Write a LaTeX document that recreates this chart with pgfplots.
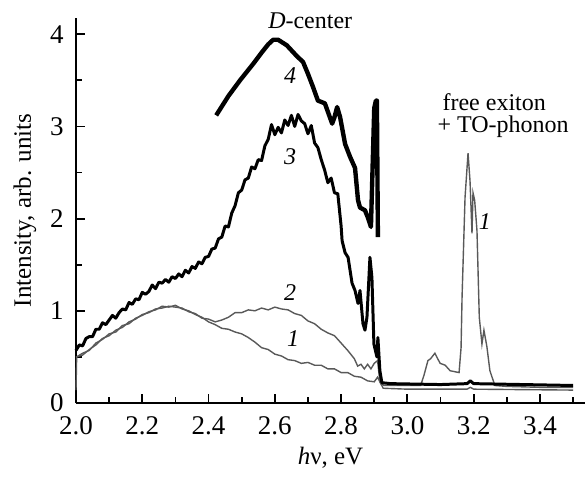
\documentclass[border=0pt]{standalone}
\usepackage{fontspec}
\setmainfont{Liberation Serif}
\usepackage{pgfplots}
\pgfplotsset{compat=1.18}
\begin{document}
\begin{tikzpicture}
\begin{axis}[
  scale only axis,
  width=254.5bp, height=192.5bp,
  xmin=2.0, xmax=3.536, ymin=0, ymax=4.176,
  axis lines*=left,
  axis line style={line width=1.1pt},
  tick align=inside,
  major tick length=4.5bp, minor tick length=3bp,
  tick style={line width=0.9pt, black},
  xtick={2.0,2.2,2.4,2.6,2.8,3.0,3.2,3.4},
  xticklabels={2.0,2.2,2.4,2.6,2.8,3.0,3.2,3.4},
  minor xtick={2.1,2.3,2.5,2.7,2.9,3.1,3.3,3.5},
  ytick={0,1,2,3,4},
  yticklabels={0,1,2,3,4},
  minor ytick={0.5,1.5,2.5,3.5},
  ticklabel style={font=\fontsize{13.5bp}{16bp}\selectfont, inner sep=1bp},
  xticklabel style={yshift=-5.5bp},
  yticklabel style={xshift=-5bp},
  clip=false,
]
% curve 1
\addplot[gray!70!black, line width=0.7pt] coordinates {
(2.000,0.14) (2.002,0.50) (2.02,0.54) (2.04,0.57) (2.06,0.65) (2.08,0.69) (2.10,0.75) (2.12,0.77)
(2.14,0.84) (2.16,0.86) (2.18,0.92) (2.20,0.95) (2.22,0.99) (2.24,1.01) (2.26,1.05) (2.28,1.04)
(2.30,1.06) (2.32,1.02) (2.34,1.00) (2.36,0.96) (2.38,0.93) (2.40,0.88) (2.42,0.85) (2.44,0.81)
(2.46,0.80) (2.48,0.77) (2.50,0.75) (2.52,0.71) (2.54,0.66) (2.56,0.60) (2.58,0.58) (2.60,0.53)
(2.62,0.51) (2.64,0.47) (2.66,0.46) (2.68,0.43) (2.70,0.44) (2.72,0.41) (2.74,0.41) (2.76,0.37)
(2.78,0.37) (2.80,0.33) (2.82,0.33) (2.84,0.29) (2.86,0.28) (2.88,0.24) (2.90,0.23) (2.91,0.28)
(2.92,0.21) (2.93,0.19) (3.00,0.19) (3.04,0.19) (3.05,0.30) (3.062,0.46) (3.07,0.48) (3.083,0.54)
(3.09,0.49) (3.099,0.43) (3.114,0.41) (3.129,0.35) (3.156,0.33) (3.162,0.60) (3.165,1.15)
(3.174,2.23) (3.183,2.71) (3.189,2.41) (3.195,1.84) (3.198,2.28) (3.203,2.20) (3.210,1.87)
(3.217,0.93) (3.225,0.64) (3.231,0.79) (3.240,0.61) (3.249,0.35) (3.264,0.19) (3.30,0.18)
(3.40,0.17) (3.50,0.17)
};
% curve 2
\addplot[gray!70!black, line width=0.7pt] coordinates {
(2.000,0.50) (2.02,0.52) (2.04,0.58) (2.06,0.63) (2.08,0.70) (2.10,0.73) (2.12,0.79)
(2.14,0.82) (2.16,0.88) (2.18,0.91) (2.20,0.96) (2.22,0.98) (2.24,1.02) (2.26,1.03) (2.28,1.05)
(2.30,1.04) (2.32,1.03) (2.34,0.99) (2.36,0.97) (2.38,0.92) (2.40,0.91) (2.42,0.88) (2.44,0.90)
(2.46,0.93) (2.48,0.98) (2.50,0.98) (2.52,1.01) (2.54,1.00) (2.56,1.03) (2.58,1.01) (2.60,1.04)
(2.62,1.02) (2.64,1.01) (2.66,0.97) (2.68,0.95) (2.70,0.89) (2.72,0.86) (2.74,0.80) (2.76,0.76)
(2.78,0.73) (2.80,0.65) (2.82,0.57) (2.84,0.48) (2.85,0.40) (2.86,0.42) (2.87,0.37) (2.88,0.42)
(2.89,0.37) (2.90,0.43) (2.91,0.46) (2.917,0.23) (2.927,0.16) (3.00,0.15) (3.18,0.15)
(3.19,0.17) (3.20,0.15) (3.50,0.14)
};
% curve 3
\addplot[black, line width=1.5pt, line join=round] coordinates {
(2.00,0.57) (2.01,0.63) (2.02,0.62) (2.03,0.70) (2.04,0.72) (2.05,0.72) (2.06,0.80) (2.07,0.80)
(2.08,0.87) (2.09,0.85) (2.10,0.90) (2.11,0.95) (2.12,0.92) (2.13,0.98) (2.14,1.02) (2.15,1.01)
(2.16,1.09) (2.17,1.07) (2.18,1.13) (2.19,1.12) (2.20,1.20) (2.21,1.18) (2.22,1.21) (2.23,1.28)
(2.24,1.24) (2.25,1.31) (2.26,1.30) (2.27,1.34) (2.28,1.31) (2.29,1.37) (2.30,1.35) (2.31,1.40)
(2.32,1.37) (2.33,1.44) (2.34,1.41) (2.35,1.48) (2.36,1.46) (2.37,1.53) (2.38,1.51) (2.39,1.58)
(2.40,1.59) (2.41,1.67) (2.42,1.68) (2.43,1.78) (2.44,1.80) (2.45,1.92) (2.46,1.91) (2.47,2.06)
(2.48,2.14) (2.49,2.28) (2.50,2.31) (2.51,2.42) (2.52,2.44) (2.53,2.56) (2.54,2.54) (2.55,2.64)
(2.56,2.63) (2.57,2.79) (2.58,2.86) (2.59,3.02) (2.60,2.91) (2.61,2.99) (2.62,2.93) (2.63,3.07)
(2.64,3.01) (2.65,3.12) (2.66,3.00) (2.67,3.13) (2.68,3.06) (2.69,3.03) (2.70,2.92) (2.71,3.01)
(2.72,2.82) (2.73,2.77) (2.74,2.64) (2.75,2.53) (2.76,2.39) (2.77,2.44) (2.78,2.28) (2.79,2.27)
(2.80,1.92) (2.803,1.76) (2.812,1.63) (2.821,1.58) (2.833,1.30) (2.842,1.22) (2.851,1.08)
(2.857,1.22) (2.866,0.86) (2.872,0.79) (2.878,0.93) (2.887,1.58) (2.893,1.36) (2.899,0.64)
(2.908,0.50) (2.911,0.71) (2.917,0.35) (2.923,0.22) (2.95,0.21) (3.10,0.20) (3.18,0.21)
(3.19,0.24) (3.20,0.21) (3.50,0.19)
};
% curve 4
\addplot[black, line width=2.2pt, line join=round] coordinates {
(2.423,3.12) (2.46,3.33) (2.495,3.50) (2.535,3.68) (2.56,3.80) (2.58,3.89) (2.595,3.94)
(2.61,3.94) (2.636,3.88) (2.667,3.76) (2.685,3.70) (2.700,3.57) (2.715,3.43) (2.730,3.28)
(2.751,3.25) (2.773,3.03) (2.780,3.10) (2.788,3.21) (2.797,3.10) (2.812,2.81) (2.827,2.67)
(2.842,2.55) (2.851,2.20) (2.857,2.12) (2.872,2.09) (2.881,2.01) (2.890,1.91) (2.900,3.20)
(2.905,3.28) (2.908,3.28) (2.911,1.80)
};
\node[anchor=base west, font=\fontsize{12bp}{14bp}\selectfont, inner sep=0pt] at (axis cs:2.579,4.06) {\textit{D}-center};
\node[anchor=base west, font=\fontsize{12bp}{14bp}\selectfont, inner sep=0pt] at (axis cs:3.105,3.17) {free exiton};
\node[anchor=base west, font=\fontsize{12bp}{14bp}\selectfont, inner sep=0pt] at (axis cs:3.09,2.93) {+ TO-phonon};
\node[font=\fontsize{12bp}{14bp}\selectfont\itshape] at (axis cs:2.646,3.55) {4};
\node[font=\fontsize{12bp}{14bp}\selectfont\itshape] at (axis cs:2.646,2.67) {3};
\node[font=\fontsize{12bp}{14bp}\selectfont\itshape] at (axis cs:2.646,1.20) {2};
\node[font=\fontsize{12bp}{14bp}\selectfont\itshape] at (axis cs:2.655,0.70) {1};
\node[font=\fontsize{12bp}{14bp}\selectfont\itshape] at (axis cs:3.234,1.97) {1};
\end{axis}
\node[rotate=90, font=\fontsize{12.5bp}{15bp}\selectfont] at (-25.5bp,96.25bp) {Intensity, arb. units};
\node[font=\fontsize{12.5bp}{15bp}\selectfont] at (127.25bp,-27.5bp) {\textit{h}ν, eV};
\pgfresetboundingbox
\path[use as bounding box] (-38bp,-38bp) rectangle (254.5bp,201.5bp);
\end{tikzpicture}
\end{document}
